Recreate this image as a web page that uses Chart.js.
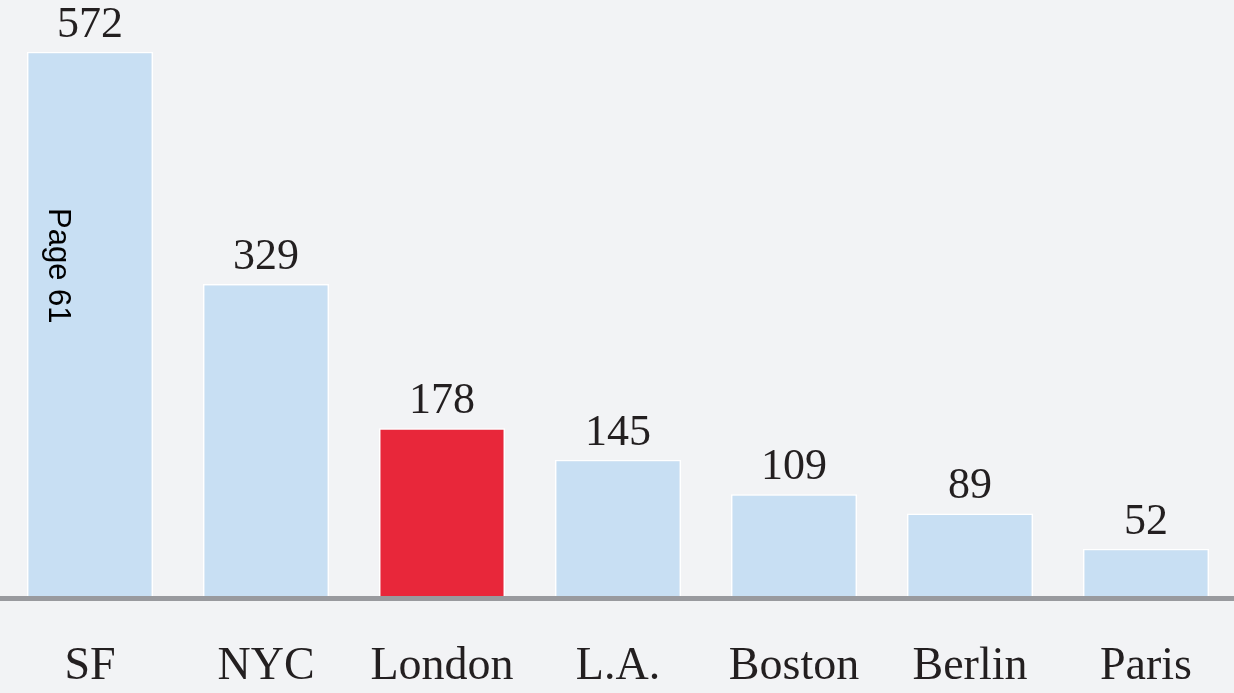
<!DOCTYPE html>
<html>
<head>
<meta charset="utf-8">
<title>Cities</title>
<script src="https://cdn.jsdelivr.net/npm/chart.js@4.4.0/dist/chart.umd.min.js"></script>
<style>
    html, body { margin: 0; padding: 0; background: #f2f3f5; }
    #chart { display: block; }
</style>
</head>
<body>
<canvas id="chart" width="1234" height="693"></canvas>
<script>
// data
var cities = ['SF', 'NYC', 'London', 'L.A.', 'Boston', 'Berlin', 'Paris'];
var counts = [572, 329, 178, 145, 109, 89, 52];
var highlight = 'London';

var barBlue = '#c8dff3';
var barRed = '#e8273a';
var textColor = '#231f20';

// writes the number over each bar
var valueLabels = {
    id: 'valueLabels',
    afterDatasetsDraw: function (chart) {
        var ctx = chart.ctx;
        var meta = chart.getDatasetMeta(0);
        ctx.save();
        ctx.font = '44px "Liberation Serif", "DejaVu Serif", serif';
        ctx.fillStyle = textColor;
        ctx.textAlign = 'center';
        ctx.textBaseline = 'alphabetic';
        meta.data.forEach(function (bar, i) {
            ctx.fillText(String(counts[i]), bar.x, bar.y - 15);
        });

        // the rotated "Page 61" note inside the first bar
        var first = meta.data[0];
        ctx.translate(first.x - 41, chart.chartArea.top + 208);
        ctx.rotate(Math.PI / 2);
        ctx.font = '31px "Liberation Sans", Arial, sans-serif';
        ctx.fillStyle = '#000000';
        ctx.textAlign = 'left';
        ctx.fillText('Page 61', 0, 0);
        ctx.restore();
    }
};

var chart = new Chart(document.getElementById('chart'), {
    type: 'bar',
    data: {
        labels: cities,
        datasets: [{
            data: counts,
            backgroundColor: cities.map(c => c === highlight ? barRed : barBlue),
            borderColor: '#ffffff',
            borderWidth: 1.5,
            barPercentage: 0.716,
            categoryPercentage: 1
        }]
    },
    options: {
        responsive: false,
        animation: false,
        layout: { padding: { left: 2, right: 0, top: 0, bottom: 0 } },
        plugins: {
            legend: { display: false },
            tooltip: { enabled: false }
        },
        scales: {
            x: {
                // hidden tick marks only used to push the labels down
                grid: { display: false, drawTicks: true, tickLength: 41.5 },
                border: { display: true, color: '#999a9e', width: 5, z: 1 },
                ticks: {
                    padding: 1.2,
                    color: textColor,
                    font: { family: '"Liberation Serif", "DejaVu Serif", serif', size: 46, lineHeight: 1.1 },
                    maxRotation: 0,
                    autoSkip: false
                }
            },
            y: {
                display: false,
                min: 0,
                max: 626
            }
        }
    },
    plugins: [valueLabels]
});
</script>
</body>
</html>
